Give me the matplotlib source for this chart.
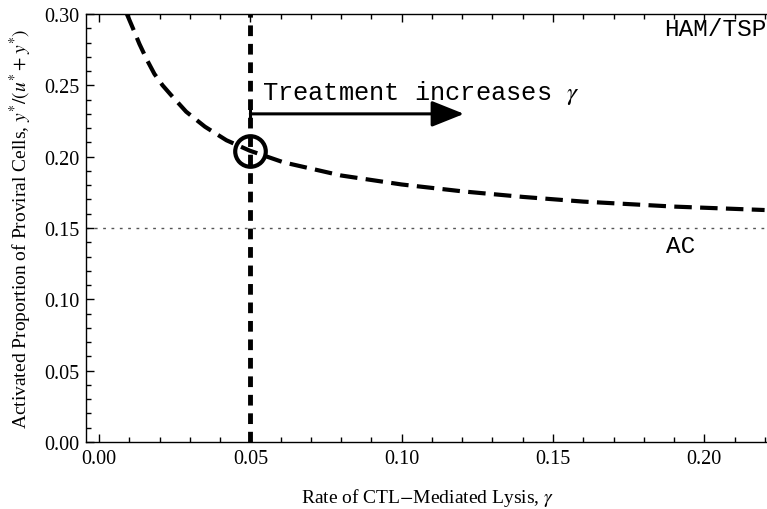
import matplotlib
matplotlib.use("Agg")
import matplotlib.pyplot as plt
from matplotlib.ticker import MultipleLocator

# Data
gamma = [0.0092, 0.0112, 0.01335, 0.0158, 0.0183, 0.0210, 0.0238, 0.0288, 0.0350,
         0.0421, 0.0498, 0.0610, 0.080, 0.100, 0.120, 0.140, 0.160, 0.190, 0.2199]
ratio = [0.300, 0.290, 0.279, 0.268, 0.258, 0.250, 0.2432, 0.2315, 0.2210,
         0.2115, 0.2042, 0.1960, 0.1868, 0.1805, 0.1757, 0.1718, 0.1685, 0.1650, 0.1626]
gamma_current = 0.05
ratio_current = 0.2042
threshold = 0.15
arrow_y = 0.23
arrow_end = 0.1206
x_ticks = [0.00, 0.05, 0.10, 0.15, 0.20]
y_ticks = [0.00, 0.05, 0.10, 0.15, 0.20, 0.25, 0.30]

plt.rcParams['mathtext.fontset'] = 'stix'
serif = ['Liberation Serif', 'DejaVu Serif']
mono = ['Liberation Mono', 'DejaVu Sans Mono']

fig = plt.figure(figsize=(7.67, 5.10), dpi=100)
ax = fig.add_axes([86/767, (510-443)/510, 1 - 86/767 + 0.002, (443-15)/510])

ax.set_xlim(-0.0043, 0.2212)
ax.set_ylim(0, 0.30)

# threshold dotted line
ax.axhline(threshold, color='#555555', lw=1.0, ls=(0, (2, 4)), zorder=1)
# vertical dashed line at current gamma
ax.axvline(gamma_current, color='black', lw=3.5, ls=(0, (2.2, 1.6)), zorder=2)
# curve
ax.plot(gamma, ratio, color='black', lw=3.0, ls=(0, (4.2, 2.0)), zorder=3)
# circle marker
ax.plot([gamma_current], [ratio_current], marker='o', ms=22, mfc='none',
        mec='black', mew=3, zorder=4)

# arrow
ax.annotate('', xy=(arrow_end, arrow_y), xytext=(gamma_current, arrow_y),
            arrowprops=dict(arrowstyle='-|>,head_length=2.0,head_width=0.8',
                            color='black', lw=2.2, shrinkA=0, shrinkB=0), zorder=5)
ax.plot([gamma_current], [arrow_y], marker='|', ms=9, mew=2.2, color='black', zorder=5)
ax.text(gamma_current + 0.004, 0.2455, r'Treatment increases $\gamma$',
        family=mono, fontsize=18.3, va='center', ha='left')
ax.text(0.2205, 0.2895, 'HAM/TSP', family=mono, fontsize=17.6, va='center', ha='right')
ax.text(0.1872, 0.1374, 'AC', family=mono, fontsize=17.6, va='center', ha='left')

ax.set_xticks(x_ticks)
ax.set_yticks(y_ticks)
ax.set_xticklabels([f'{v:.2f}' for v in x_ticks])
ax.set_yticklabels([f'{v:.2f}' for v in y_ticks])
ax.xaxis.set_minor_locator(MultipleLocator(0.01))
ax.yaxis.set_minor_locator(MultipleLocator(0.01))
ax.tick_params(which='both', direction='in', top=True, right=False, width=1)
ax.tick_params(which='major', length=6, labelsize=14.5, pad=5)
ax.tick_params(which='minor', length=3.5)
for lab in ax.get_xticklabels() + ax.get_yticklabels():
    lab.set_family(serif)
for s in ax.spines.values():
    s.set_linewidth(1.0)
ax.spines['right'].set_visible(False)

ax.set_xlabel(r'Rate of CTL$-$Mediated Lysis, $\gamma$', family=serif, fontsize=14, labelpad=13)
ax.set_ylabel(r'Activated Proportion of Proviral Cells, $y^{*}/(u^{*}+y^{*})$',
              family=serif, fontsize=14, labelpad=7)

fig.savefig('out.png', dpi=100)
